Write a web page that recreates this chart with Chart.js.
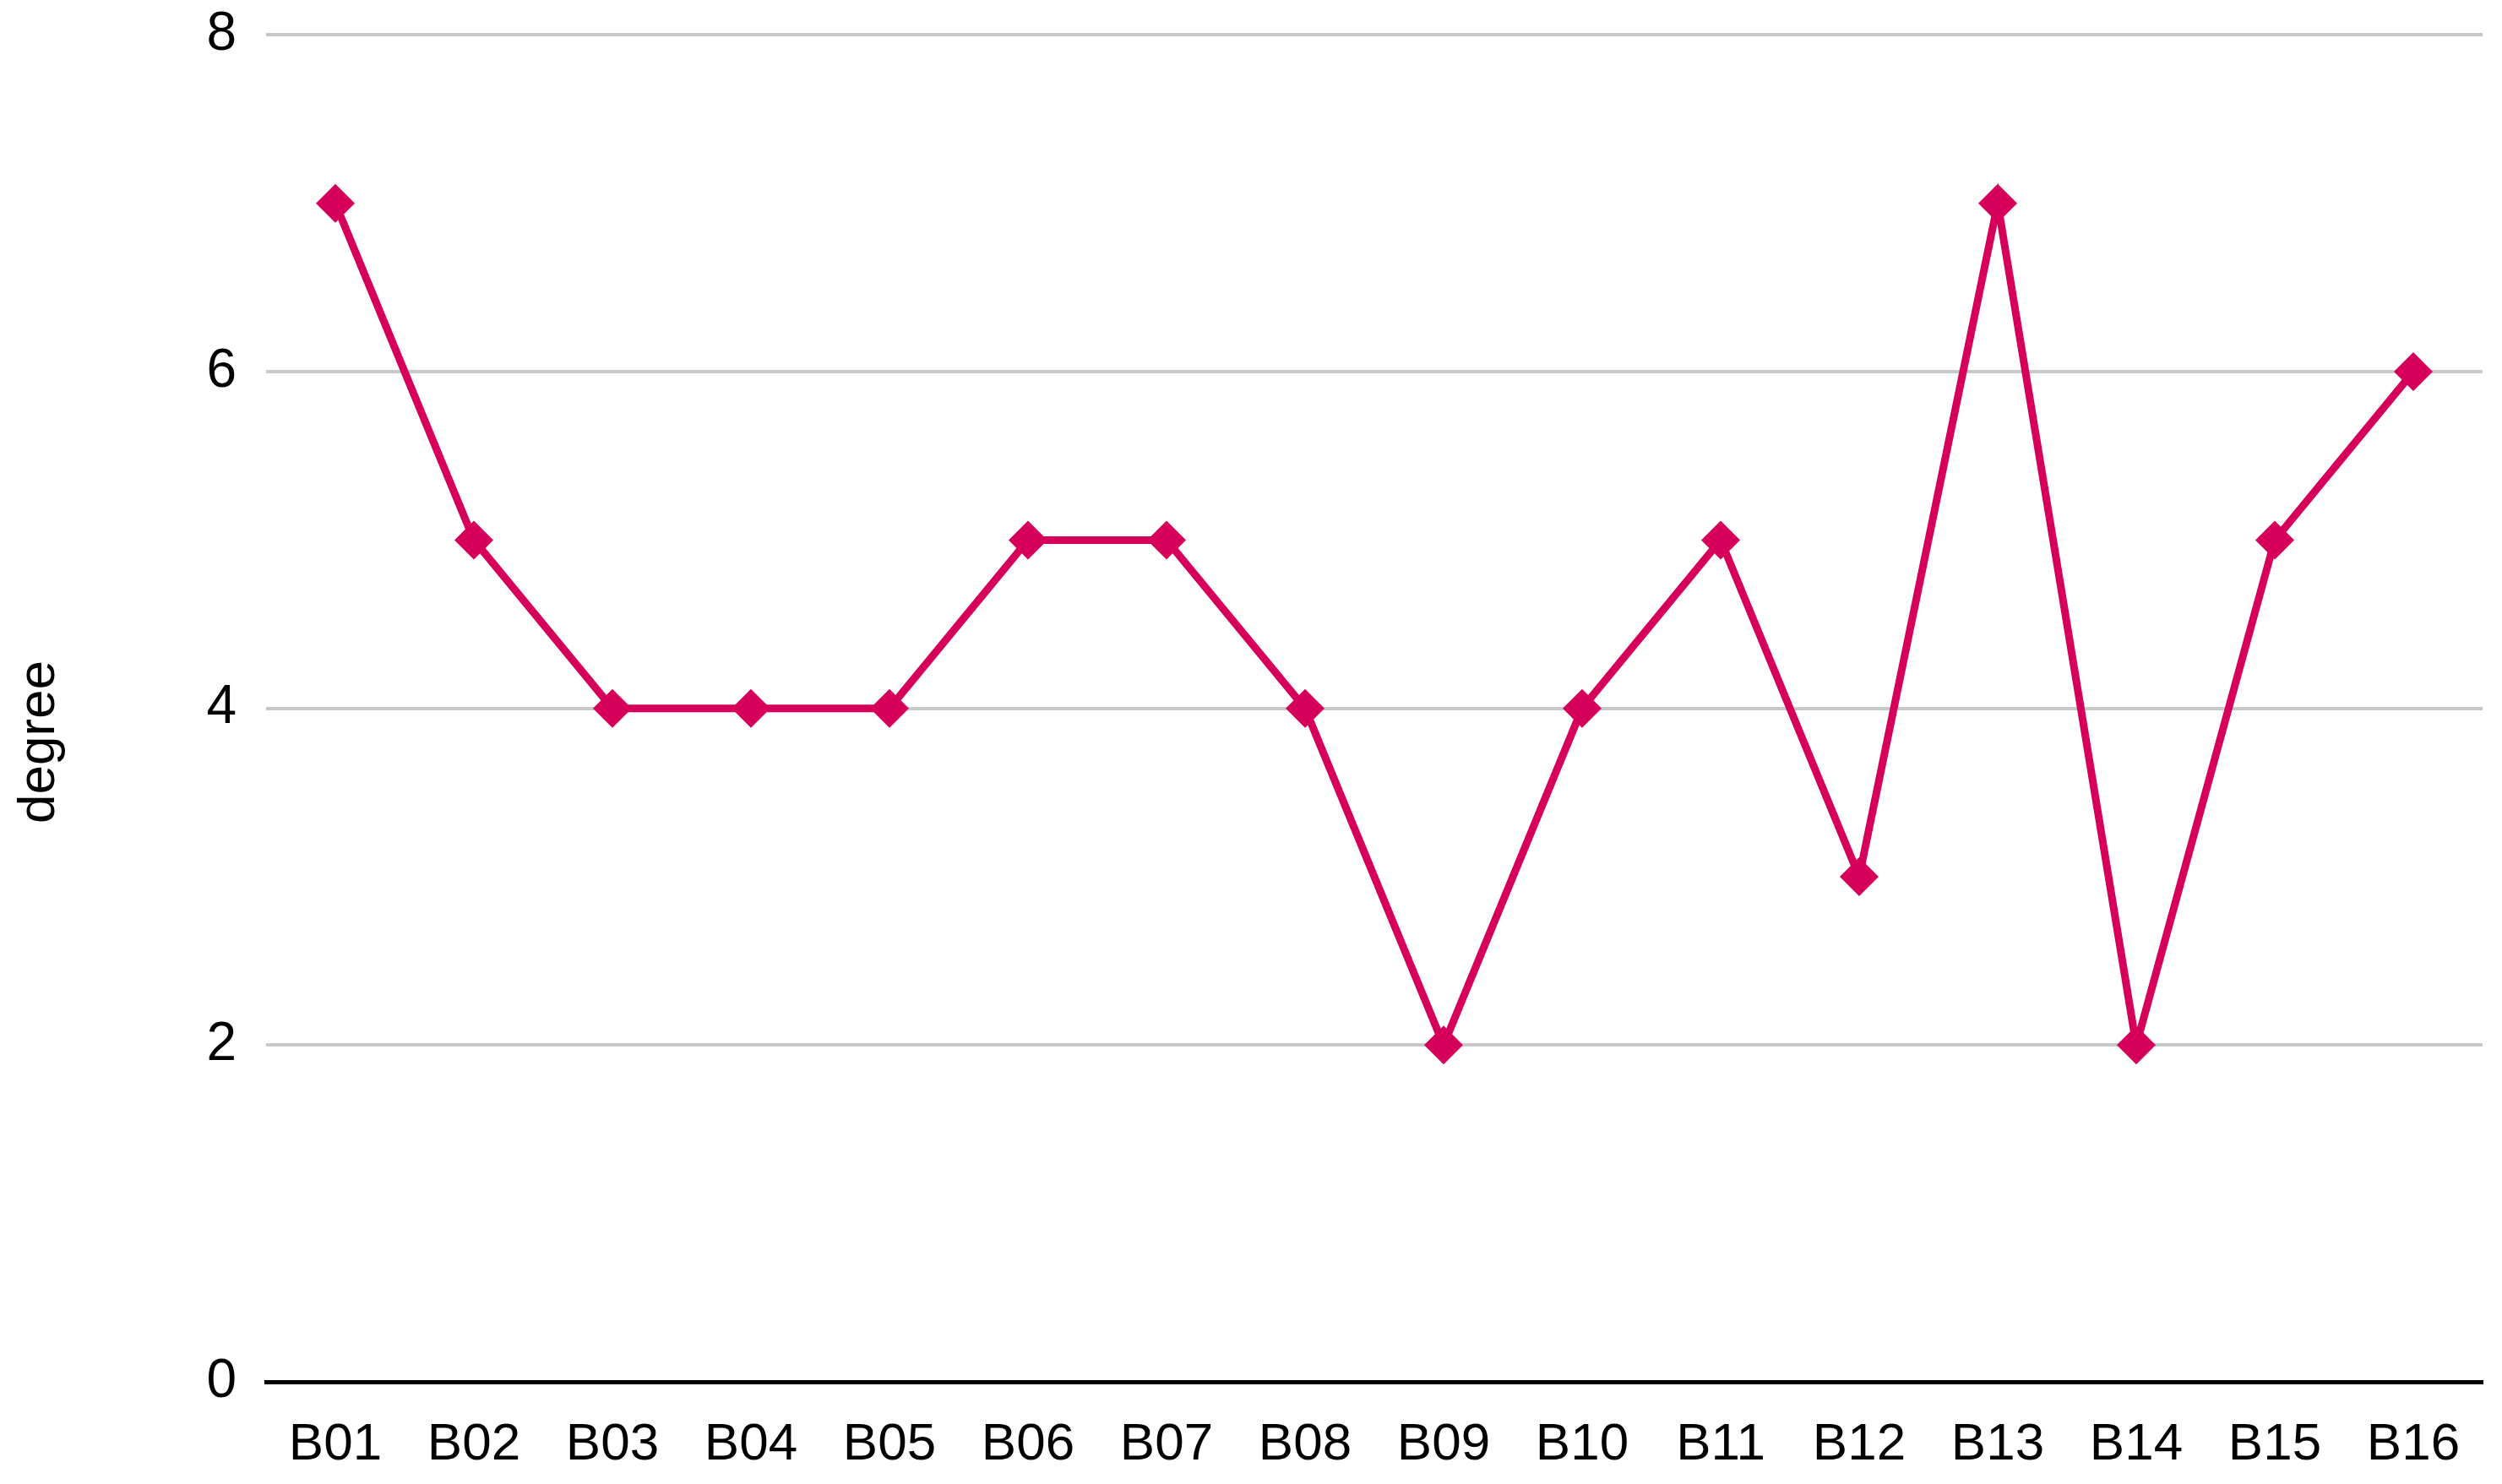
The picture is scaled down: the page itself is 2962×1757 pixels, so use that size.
<!DOCTYPE html>
<html>
<head>
<meta charset="utf-8">
<script src="https://cdn.jsdelivr.net/npm/chart.js@4.4.0/dist/chart.umd.min.js"></script>
<style>
  html, body { margin: 0; padding: 0; background: #fff; }
  #wrap { width: 2962px; height: 1757px; }
</style>
</head>
<body>
<div id="wrap"><canvas id="lineChart" width="2962" height="1757"></canvas></div>
<script>
// Data block
const categories = ["B01", "B02", "B03", "B04", "B05", "B06", "B07", "B08",
                    "B09", "B10", "B11", "B12", "B13", "B14", "B15", "B16"]
const degreeValues = [7, 5, 4, 4, 4, 5, 5, 4, 2, 4, 5, 3, 7, 2, 5, 6]
const yTicks = [0, 2, 4, 6, 8]
const yTitle = "degree"

const lineColor = "#d6005a"
const fontFamily = "'Liberation Sans', Arial, sans-serif"

// The y title sits centred on the whole canvas height, not on the plot area,
// so it is drawn here instead of through scales.y.title
const yTitlePlugin = {
  id: 'yTitle',
  afterDraw(chart) {
    const ctx = chart.ctx
    ctx.save()
    ctx.translate(47, chart.height / 2)
    ctx.rotate(-Math.PI / 2)
    ctx.fillStyle = '#000'
    ctx.font = `62px ${fontFamily}`
    ctx.textAlign = 'center'
    ctx.textBaseline = 'middle'
    ctx.fillText(yTitle, 0, 0)
    ctx.restore()
  }
}

// Config block
const config = {
  type: 'line',
  data: {
    labels: categories,
    datasets: [{
      label: yTitle,
      data: degreeValues,
      borderColor: lineColor,
      backgroundColor: lineColor,
      borderWidth: 9,
      pointStyle: 'rectRot',
      pointRadius: 23,
      pointBorderWidth: 0,
      pointBackgroundColor: lineColor,
      tension: 0
    }]
  },
  options: {
    responsive: false,
    animation: false,
    layout: { padding: { top: 0, right: 21, left: 0, bottom: 0 } },
    plugins: {
      legend: { display: false },
      tooltip: { enabled: false }
    },
    scales: {
      x: {
        offset: true,
        grid: { display: false },
        border: { display: true, color: '#000', width: 5 },
        ticks: {
          color: '#000',
          padding: 30,
          maxRotation: 0,
          font: { family: fontFamily, size: 62 }
        },
        afterFit: scale => { scale.height = 121 }
      },
      y: {
        min: 0,
        max: 8,
        afterBuildTicks: scale => {
          scale.ticks = yTicks.map(v => ({ value: v }))
        },
        grid: {
          color: '#c8c8c8',
          lineWidth: 4,
          drawTicks: true,
          tickLength: 32,
          tickColor: 'rgba(0,0,0,0)'
        },
        border: { display: false },
        ticks: {
          color: '#000',
          padding: 3,
          font: { family: fontFamily, size: 64 }
        },
        afterFit: scale => { scale.width = 315 }
      }
    }
  },
  plugins: [yTitlePlugin]
}

// Render block
const lineChart = new Chart(document.querySelector("#lineChart"), config)
</script>
</body>
</html>
